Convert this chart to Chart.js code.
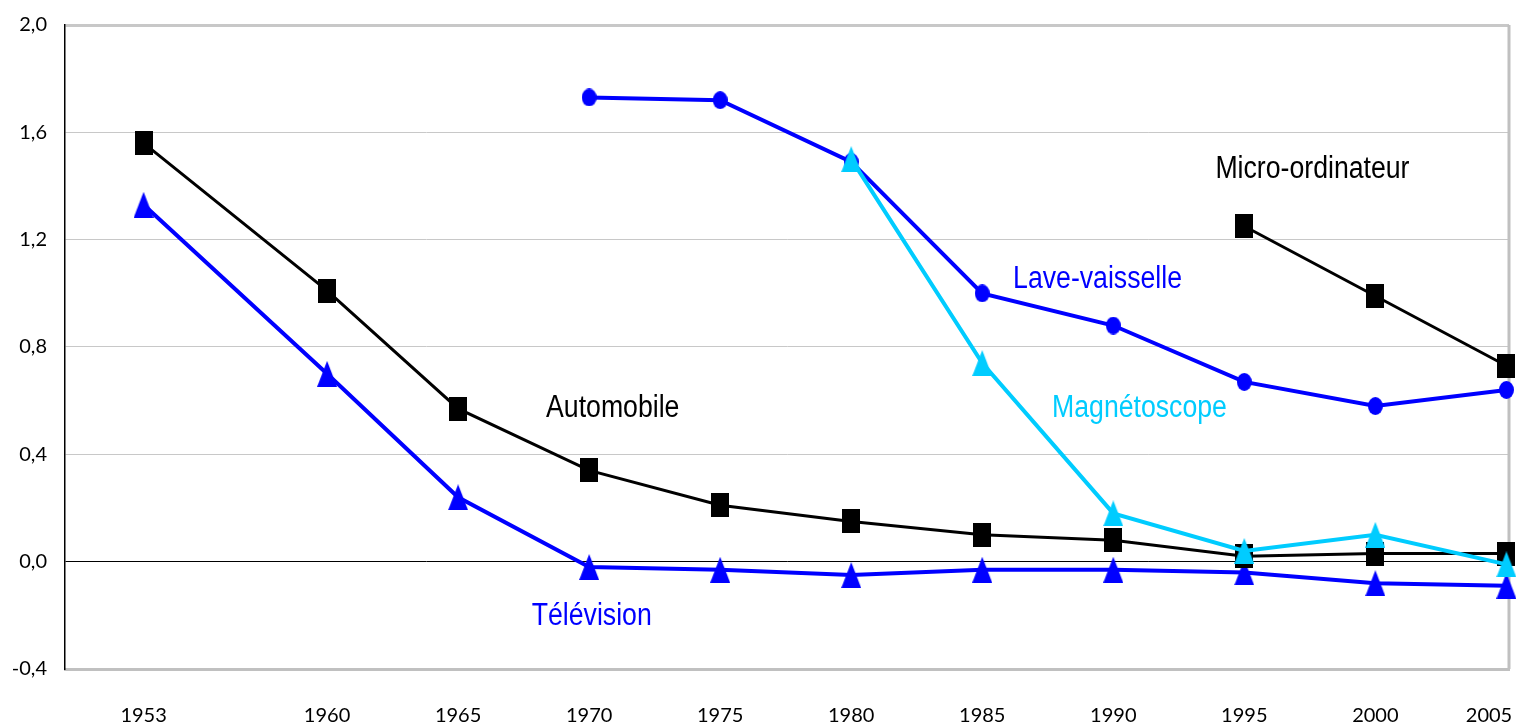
<!DOCTYPE html>
<html lang="fr">
<head>
    <meta charset="UTF-8">
    <title>Prix relatifs des biens d'équipement</title>
    <script src="https://cdn.jsdelivr.net/npm/chart.js"></script>
    <style>
        body {
            margin: 0;
            padding: 0;
            background-color: #ffffff;
        }

        .chart-box {
            width: 1517px;
            height: 725px;
        }
    </style>
</head>
<body>
    <div class="chart-box">
        <canvas id="equipChart"></canvas>
    </div>

    <script>
        // data
        const years = [1953, 1960, 1965, 1970, 1975, 1980, 1985, 1990, 1995, 2000, 2005];
        const automobile = [1.56, 1.01, 0.57, 0.34, 0.21, 0.15, 0.10, 0.08, 0.02, 0.03, 0.03];
        const television = [1.33, 0.70, 0.24, -0.02, -0.03, -0.05, -0.03, -0.03, -0.04, -0.08, -0.09];
        const laveVaisselle = [null, null, null, 1.73, 1.72, 1.49, 1.00, 0.88, 0.67, 0.58, 0.64];
        const magnetoscope = [null, null, null, null, null, 1.50, 0.74, 0.18, 0.04, 0.10, -0.01];
        const microOrdinateur = [null, null, null, null, null, null, null, null, 1.25, 0.99, 0.73];
        const yTicks = [-0.4, 0.0, 0.4, 0.8, 1.2, 1.6, 2.0];

        // series names written in the plot, with where they sit (year, value)
        const seriesLabels = [
            { text: 'Micro-ordinateur', color: '#000000', x: 1997.6, y: 1.46 },
            { text: 'Lave-vaisselle', color: '#0000ff', x: 1989.4, y: 1.05 },
            { text: 'Magnétoscope', color: '#00ccff', x: 1991.0, y: 0.57 },
            { text: 'Automobile', color: '#000000', x: 1970.9, y: 0.57 },
            { text: 'Télévision', color: '#0000ff', x: 1970.1, y: -0.205 }
        ];

        function toPoints(values) {
            return years
                .map((yr, i) => ({ x: yr, y: values[i] }))
                .filter(p => p.y !== null);
        }

        // marker images: Excel-like shapes, a bit taller than wide
        function makeMarker(shape, w, h, color) {
            const c = document.createElement('canvas');
            c.width = w;
            c.height = h;
            const g = c.getContext('2d');
            g.fillStyle = color;
            g.beginPath();
            if (shape === 'square') {
                g.rect(0, 0, w, h);
            } else if (shape === 'triangle') {
                g.moveTo(w / 2, 0);
                g.lineTo(w, h);
                g.lineTo(0, h);
                g.closePath();
            } else {
                g.ellipse(w / 2, h / 2, w / 2, h / 2, 0, 0, Math.PI * 2);
            }
            g.fill();
            return c;
        }

        const squareBlack = makeMarker('square', 18, 24, '#000000');
        const triBlue = makeMarker('triangle', 20, 26, '#0000ff');
        const triCyan = makeMarker('triangle', 20, 26, '#00ccff');
        const dotBlue = makeMarker('circle', 15, 18, '#0000ff');

        // labels in the plot + right frame line
        const extrasPlugin = {
            id: 'extras',
            beforeDatasetsDraw(chart) {
                const { ctx, chartArea } = chart;
                ctx.save();
                ctx.strokeStyle = '#c0c0c0';
                ctx.lineWidth = 3;
                ctx.beginPath();
                ctx.moveTo(chartArea.right, chartArea.top);
                ctx.lineTo(chartArea.right, chartArea.bottom);
                ctx.stroke();
                ctx.restore();
            },
            afterDatasetsDraw(chart) {
                const { ctx, scales } = chart;
                ctx.save();
                ctx.font = '31px "Liberation Sans", Arial, sans-serif';
                ctx.textAlign = 'center';
                ctx.textBaseline = 'middle';
                seriesLabels.forEach(l => {
                    const px = scales.x.getPixelForValue(l.x);
                    const py = scales.y.getPixelForValue(l.y);
                    ctx.save();
                    ctx.translate(px, py);
                    ctx.scale(0.86, 1); // narrow face
                    ctx.fillStyle = l.color;
                    ctx.fillText(l.text, 0, 0);
                    ctx.restore();
                });
                ctx.restore();
            }
        };

        const ctx = document.getElementById('equipChart').getContext('2d');
        new Chart(ctx, {
            type: 'line',
            data: {
                datasets: [
                    {
                        label: 'Magnétoscope',
                        data: toPoints(magnetoscope),
                        borderColor: '#00ccff',
                        borderWidth: 4,
                        pointStyle: triCyan,
                        order: 0
                    },
                    {
                        label: 'Lave-vaisselle',
                        data: toPoints(laveVaisselle),
                        borderColor: '#0000ff',
                        borderWidth: 4,
                        pointStyle: dotBlue,
                        order: 1
                    },
                    {
                        label: 'Micro-ordinateur',
                        data: toPoints(microOrdinateur),
                        borderColor: '#000000',
                        borderWidth: 3,
                        pointStyle: squareBlack,
                        order: 2
                    },
                    {
                        label: 'Automobile',
                        data: toPoints(automobile),
                        borderColor: '#000000',
                        borderWidth: 3,
                        pointStyle: squareBlack,
                        order: 3
                    },
                    {
                        label: 'Télévision',
                        data: toPoints(television),
                        borderColor: '#0000ff',
                        borderWidth: 4,
                        pointStyle: triBlue,
                        order: 4
                    }
                ].map(d => Object.assign(d, { fill: false, tension: 0, clip: false }))
            },
            options: {
                responsive: true,
                maintainAspectRatio: false,
                animation: false,
                layout: {
                    padding: { top: 25, right: 7, left: 0, bottom: 0 }
                },
                plugins: {
                    legend: { display: false },
                    tooltip: { enabled: false }
                },
                scales: {
                    x: {
                        type: 'linear',
                        min: 1950,
                        max: 2005.1,
                        afterBuildTicks: scale => {
                            scale.ticks = years.map(v => ({ value: v }));
                        },
                        afterFit: scale => {
                            scale.height = 56;
                            scale.paddingLeft = 0;
                            scale.paddingRight = 0;
                        },
                        grid: { display: false },
                        border: { display: true, color: '#c0c0c0', width: 3 },
                        ticks: {
                            padding: 27,
                            maxRotation: 0,
                            autoSkip: false,
                            color: '#000000',
                            font: { family: 'Lato, "DejaVu Sans", sans-serif', size: 20 },
                            // last label is pushed left so it stays inside the frame
                            callback: v => (v === 2005 ? '2005\u2007\u2007\u2007' : String(v))
                        }
                    },
                    y: {
                        min: -0.4,
                        max: 2.0,
                        afterBuildTicks: scale => {
                            scale.ticks = yTicks.map(v => ({ value: v }));
                        },
                        afterFit: scale => {
                            scale.width = 65;
                            scale.paddingTop = 0;
                            scale.paddingBottom = 0;
                        },
                        border: { display: true, color: '#000000', width: 1.5 },
                        grid: {
                            drawTicks: false,
                            color: c => (c.tick && c.tick.value === 0 ? '#000000' : '#c8c8c8'),
                            lineWidth: c => {
                                if (!c.tick) return 1;
                                if (c.tick.value === 2.0) return 3;
                                return 1;
                            }
                        },
                        ticks: {
                            padding: 18,
                            color: '#000000',
                            font: { family: 'Lato, "DejaVu Sans", sans-serif', size: 20 },
                            callback: v => v.toFixed(1).replace('.', ',')
                        }
                    }
                }
            },
            plugins: [extrasPlugin]
        });
    </script>
</body>
</html>
